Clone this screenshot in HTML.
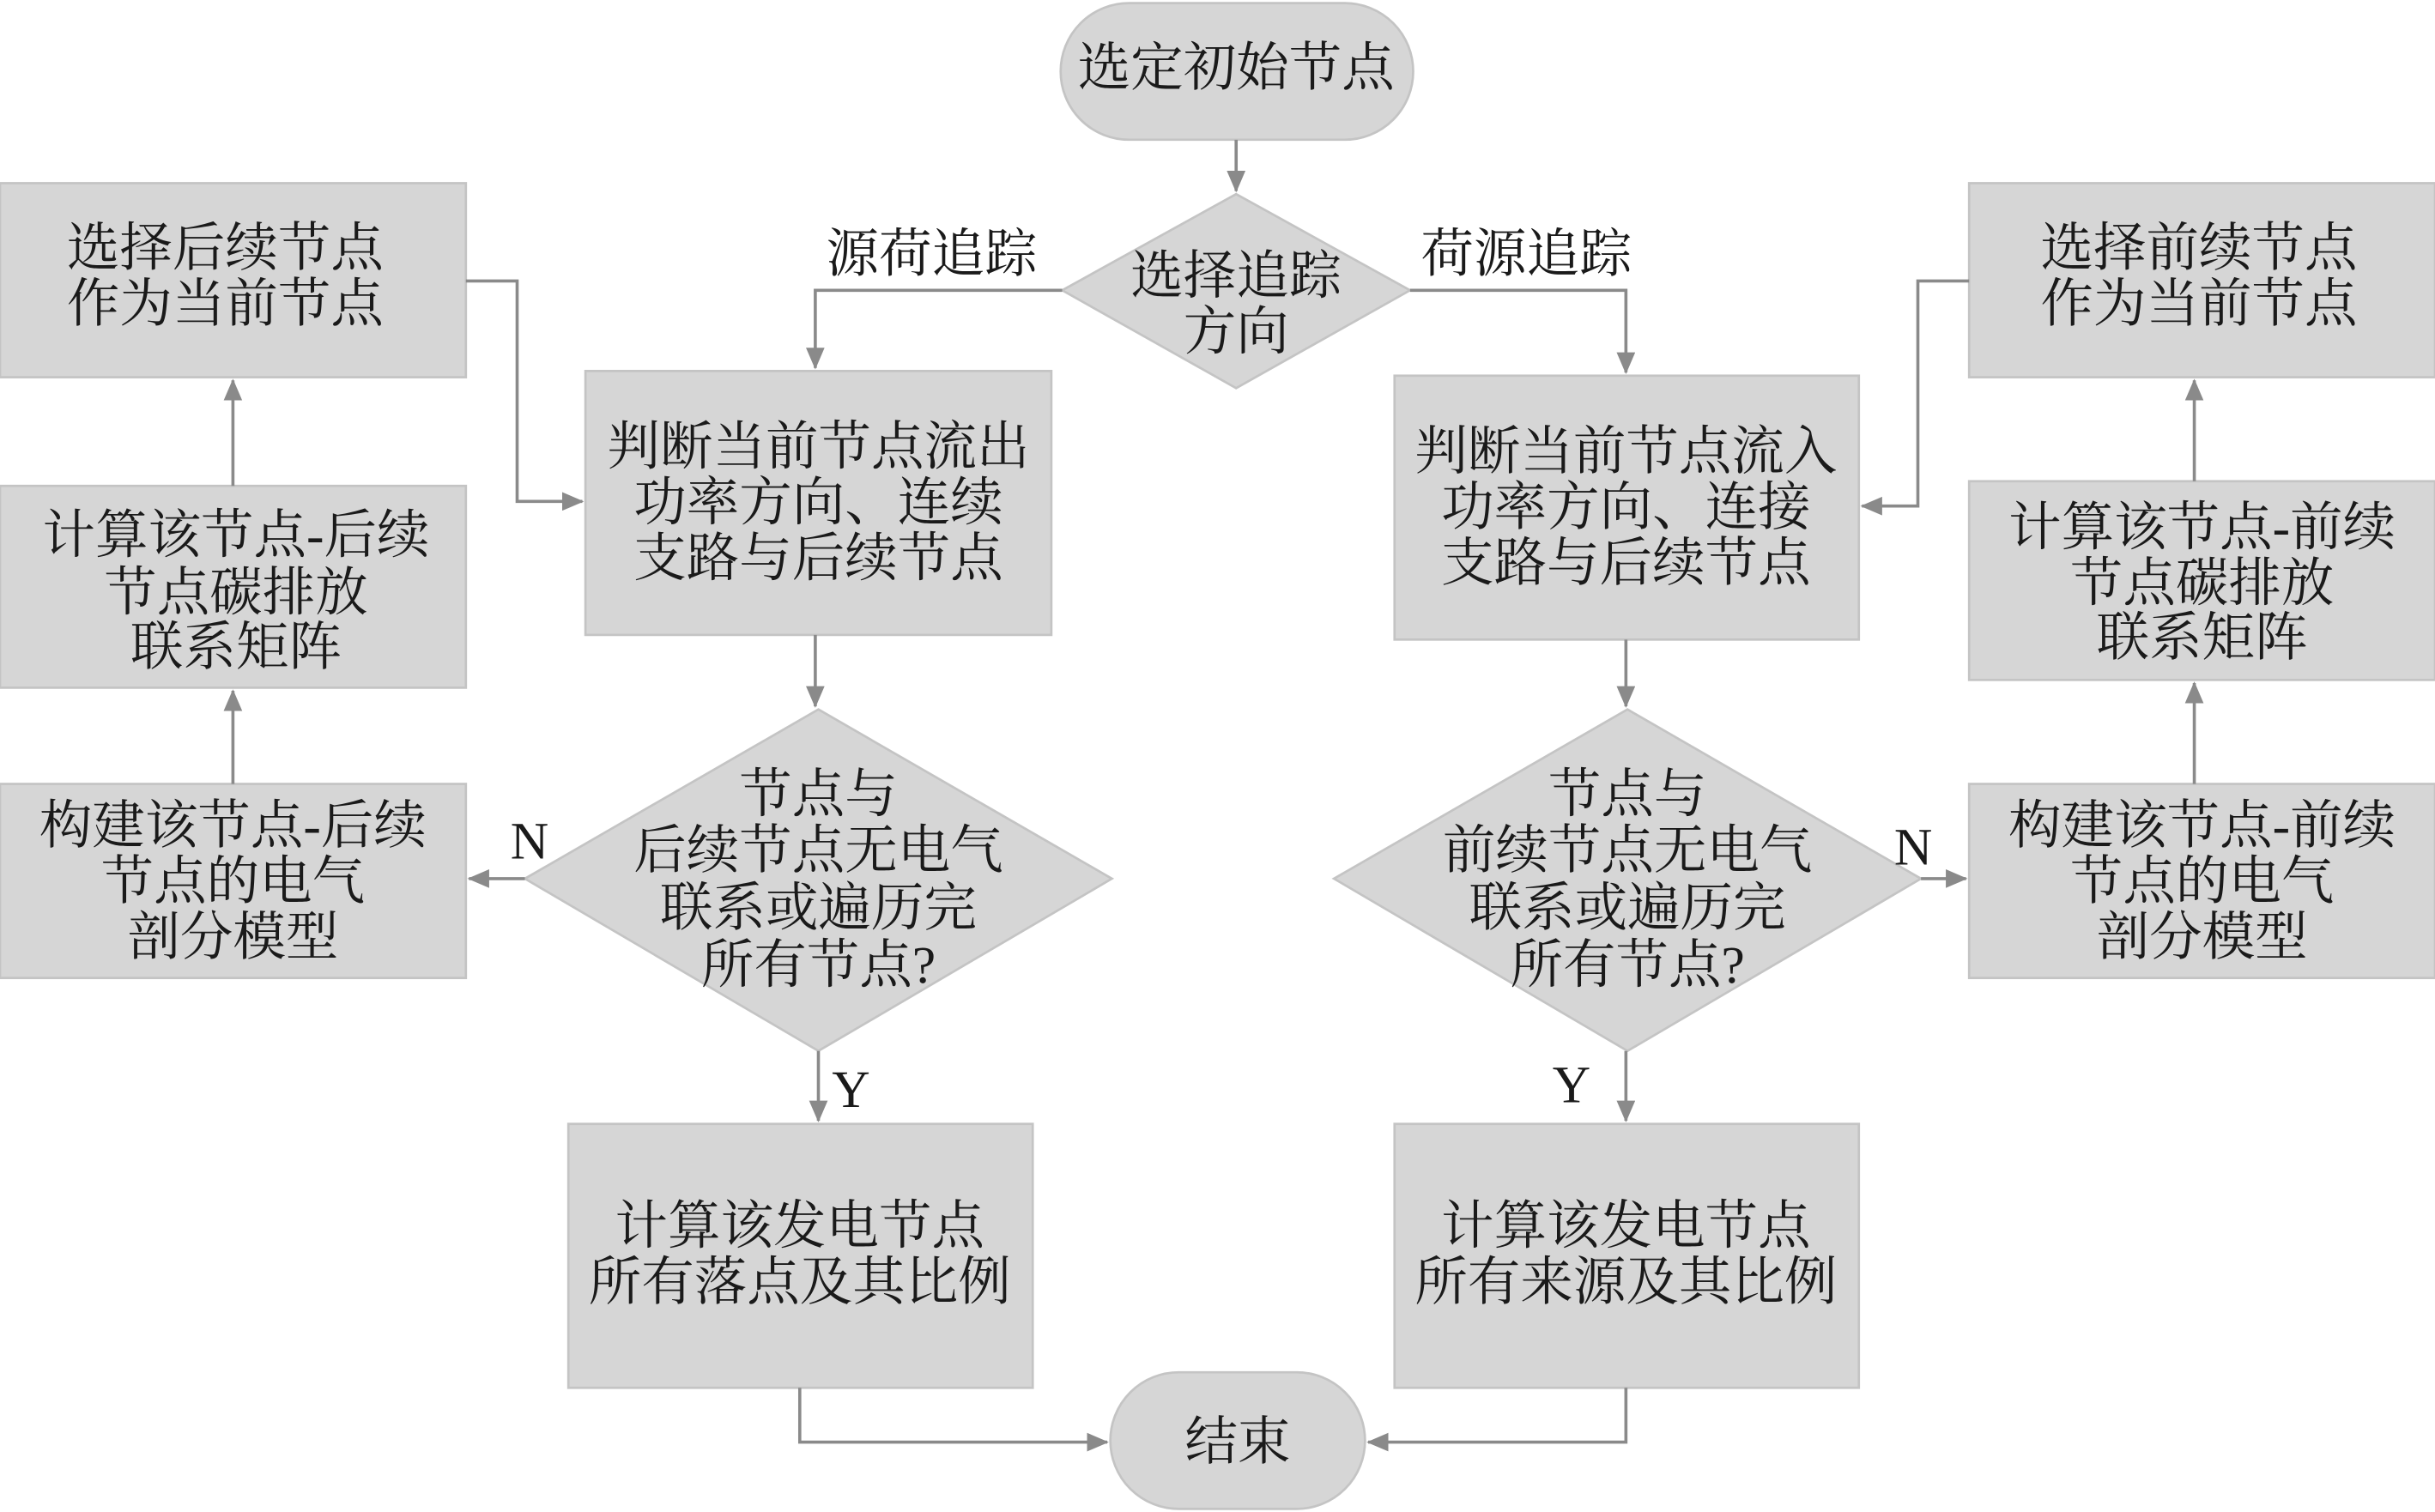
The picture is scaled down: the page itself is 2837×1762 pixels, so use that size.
<!DOCTYPE html>
<html><head><meta charset="utf-8"><style>
html,body{margin:0;padding:0;background:#fff;}
svg{display:block;}
text{font-family:"Liberation Serif","Noto Serif CJK SC",serif;font-size:34px;fill:#1a1a1a;text-anchor:middle;dominant-baseline:central;}
.n{fill:#d6d6d6;stroke:#c4c4c4;stroke-width:1.5;}
.l{fill:none;stroke:#8a8a8a;stroke-width:2;}
</style></head><body>
<svg width="2837" height="1762" viewBox="0 0 1568 974" preserveAspectRatio="none">
<defs><marker id="a" markerWidth="14" markerHeight="12" refX="13" refY="6" orient="auto" markerUnits="userSpaceOnUse" viewBox="0 0 14 12"><path d="M0,0 L14,6 L0,12 z" fill="#8a8a8a"/></marker></defs>
<rect class="n" x="683" y="2" width="227" height="88" rx="44"/>
<text x="796" y="44">选定初始节点</text>
<line class="l" x1="796" y1="90" x2="796" y2="123" marker-end="url(#a)"/>
<polygon class="n" points="796,125 908,187 796,250 684,187"/>
<text x="796" y="178">选择追踪</text>
<text x="796" y="214">方向</text>
<text x="600" y="164">源荷追踪</text>
<text x="983" y="164">荷源追踪</text>
<polyline class="l" points="684,187 525,187 525,237" marker-end="url(#a)"/>
<polyline class="l" points="908,187 1047,187 1047,240" marker-end="url(#a)"/>
<rect class="n" x="377" y="239" width="300" height="170"/>
<text x="527" y="288">判断当前节点流出</text>
<text x="527" y="324">功率方向、连续</text>
<text x="527" y="360">支路与后续节点</text>
<rect class="n" x="898" y="242" width="299" height="170"/>
<text x="1047" y="291">判断当前节点流入</text>
<text x="1047" y="327">功率方向、连接</text>
<text x="1047" y="363">支路与后续节点</text>
<line class="l" x1="525" y1="409" x2="525" y2="455" marker-end="url(#a)"/>
<line class="l" x1="1047" y1="412" x2="1047" y2="455" marker-end="url(#a)"/>
<polygon class="n" points="527,457 716,566 527,677 338,566"/>
<text x="527" y="512">节点与</text>
<text x="527" y="548">后续节点无电气</text>
<text x="527" y="585">联系或遍历完</text>
<text x="527" y="622">所有节点?</text>
<polygon class="n" points="1048,457 1237,566 1048,677 859,566"/>
<text x="1048" y="512">节点与</text>
<text x="1048" y="548">前续节点无电气</text>
<text x="1048" y="585">联系或遍历完</text>
<text x="1048" y="622">所有节点?</text>
<line class="l" x1="527" y1="677" x2="527" y2="722" marker-end="url(#a)"/>
<line class="l" x1="1047" y1="677" x2="1047" y2="722" marker-end="url(#a)"/>
<text x="548" y="702">Y</text>
<text x="1012" y="699">Y</text>
<rect class="n" x="366" y="724" width="299" height="170"/>
<text x="515" y="790">计算该发电节点</text>
<text x="515" y="826">所有落点及其比例</text>
<rect class="n" x="898" y="724" width="299" height="170"/>
<text x="1047" y="790">计算该发电节点</text>
<text x="1047" y="826">所有来源及其比例</text>
<rect class="n" x="715" y="884" width="164" height="88" rx="44"/>
<text x="797" y="929">结束</text>
<polyline class="l" points="515,894 515,929 713,929" marker-end="url(#a)"/>
<polyline class="l" points="1047,894 1047,929 881,929" marker-end="url(#a)"/>
<rect class="n" x="0" y="118" width="300" height="125"/>
<text x="145" y="160">选择后续节点</text>
<text x="145" y="196">作为当前节点</text>
<rect class="n" x="0" y="313" width="300" height="130"/>
<text x="152" y="345">计算该节点-后续</text>
<text x="152" y="382">节点碳排放</text>
<text x="152" y="417">联系矩阵</text>
<rect class="n" x="0" y="505" width="300" height="125"/>
<text x="150" y="532">构建该节点-后续</text>
<text x="150" y="568">节点的电气</text>
<text x="150" y="604">剖分模型</text>
<line class="l" x1="338" y1="566" x2="302" y2="566" marker-end="url(#a)"/>
<text x="341" y="542">N</text>
<line class="l" x1="150" y1="505" x2="150" y2="445" marker-end="url(#a)"/>
<line class="l" x1="150" y1="313" x2="150" y2="245" marker-end="url(#a)"/>
<polyline class="l" points="300,181 333,181 333,323 375,323" marker-end="url(#a)"/>
<rect class="n" x="1268" y="118" width="300" height="125"/>
<text x="1416" y="160">选择前续节点</text>
<text x="1416" y="196">作为当前节点</text>
<rect class="n" x="1268" y="310" width="300" height="128"/>
<text x="1418" y="340">计算该节点-前续</text>
<text x="1418" y="376">节点碳排放</text>
<text x="1418" y="411">联系矩阵</text>
<rect class="n" x="1268" y="505" width="300" height="125"/>
<text x="1418" y="532">构建该节点-前续</text>
<text x="1418" y="568">节点的电气</text>
<text x="1418" y="604">剖分模型</text>
<line class="l" x1="1237" y1="566" x2="1266" y2="566" marker-end="url(#a)"/>
<text x="1232" y="546">N</text>
<line class="l" x1="1413" y1="505" x2="1413" y2="440" marker-end="url(#a)"/>
<line class="l" x1="1413" y1="310" x2="1413" y2="245" marker-end="url(#a)"/>
<polyline class="l" points="1268,181 1235,181 1235,326 1199,326" marker-end="url(#a)"/>
</svg>
</body></html>
